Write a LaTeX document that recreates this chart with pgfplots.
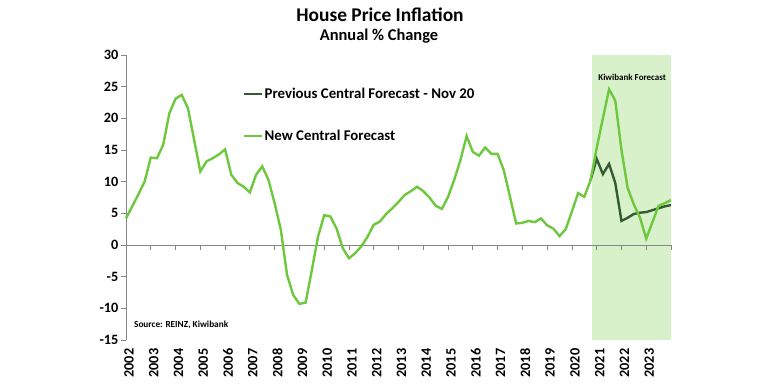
\documentclass[border=0pt]{standalone}
\usepackage{pgfplots}
\pgfplotsset{compat=1.18}
\usepackage{pgfplotstable}
\usepackage{fontspec}
\setmainfont{Carlito}
\definecolor{newgreen}{RGB}{110,200,62}
\definecolor{oldgreen}{RGB}{52,92,52}
\definecolor{shadegreen}{RGB}{217,241,203}
\definecolor{axgray}{RGB}{134,134,134}
\pgfplotstableread{
x y
2002.00 4.2
2002.25 6.1
2002.50 8.0
2002.75 10.0
2003.00 13.8
2003.25 13.7
2003.50 15.8
2003.75 20.8
2004.00 23.1
2004.25 23.7
2004.50 21.6
2004.75 16.6
2005.00 11.6
2005.25 13.2
2005.50 13.7
2005.75 14.3
2006.00 15.1
2006.25 11.1
2006.50 9.8
2006.75 9.2
2007.00 8.3
2007.25 11.1
2007.50 12.4
2007.75 10.3
2008.00 6.6
2008.25 2.4
2008.50 -4.7
2008.75 -7.9
2009.00 -9.3
2009.25 -9.1
2009.50 -4.0
2009.75 1.3
2010.00 4.7
2010.25 4.5
2010.50 2.6
2010.75 -0.5
2011.00 -2.1
2011.25 -1.3
2011.50 -0.2
2011.75 1.3
2012.00 3.2
2012.25 3.7
2012.50 4.9
2012.75 5.8
2013.00 6.8
2013.25 7.9
2013.50 8.5
2013.75 9.2
2014.00 8.5
2014.25 7.5
2014.50 6.2
2014.75 5.7
2015.00 7.6
2015.25 10.3
2015.50 13.4
2015.75 17.2
2016.00 14.7
2016.25 14.1
2016.50 15.4
2016.75 14.4
2017.00 14.4
2017.25 11.8
2017.50 7.6
2017.75 3.4
2018.00 3.5
2018.25 3.8
2018.50 3.6
2018.75 4.2
2019.00 3.1
2019.25 2.6
2019.50 1.4
2019.75 2.5
2020.00 5.3
2020.25 8.2
2020.50 7.6
2020.75 10.2
2021.00 15.3
2021.25 20.0
2021.50 24.6
2021.75 22.8
2022.00 15.0
2022.25 9.0
2022.50 6.4
2022.75 4.3
2023.00 1.0
2023.25 3.6
2023.50 6.2
2023.75 6.6
2024.00 7.1
}\newdata
\pgfplotstableread{
x y
2020.75 10.2
2021.00 13.6
2021.25 11.2
2021.50 12.8
2021.75 9.8
2022.00 3.8
2022.25 4.3
2022.50 4.9
2022.75 5.1
2023.00 5.2
2023.25 5.5
2023.50 5.8
2023.75 6.1
2024.00 6.3
}\olddata
\begin{document}
\begin{tikzpicture}
\path[use as bounding box] (0,0) rectangle (760bp,390bp);
\node[font=\bfseries\fontsize{19.5}{19.5}\selectfont] at (380bp,375bp) {House Price Inflation};
\node[font=\bfseries\fontsize{16.5}{16.5}\selectfont] at (379bp,354bp) {Annual \% Change};
\begin{axis}[
  at={(126bp,50bp)}, anchor=south west,
  scale only axis, width=545bp, height=285bp,
  xmin=2002, xmax=2024, ymin=-15, ymax=30,
  axis lines*=left,
  x axis line style={draw=none},
  y axis line style={draw=axgray, line width=0.8bp},
  clip=false,
  ytick={-15,-10,-5,0,5,10,15,20,25,30},
  yticklabels={-15,-10,-5,0,5,10,15,20,25,30},
  ytick style={draw=axgray, line width=0.8bp},
  tick align=outside,
  major tick length=5bp,
  xtick={2002.12,2003.12,2004.12,2005.12,2006.12,2007.12,2008.12,2009.12,2010.12,2011.12,2012.12,2013.12,2014.12,2015.12,2016.12,2017.12,2018.12,2019.12,2020.12,2021.12,2022.12,2023.12},
  xticklabels={2002,2003,2004,2005,2006,2007,2008,2009,2010,2011,2012,2013,2014,2015,2016,2017,2018,2019,2020,2021,2022,2023},
  x tick style={draw=none},
  ticklabel style={font=\bfseries\fontsize{14.3}{14.3}\selectfont},
  xticklabel style={rotate=90, anchor=east, inner sep=3.5bp},
  yticklabel style={inner sep=2.5bp},
  legend style={at={(axis description cs:0.2147,0.7895)}, anchor=west, draw=none, fill=none,
    inner sep=0pt, row sep=28bp, font=\bfseries\fontsize{14.9}{14.9}\selectfont,
    nodes={inner sep=1bp}},
  legend cell align=left,
  legend image code/.code={\draw[#1] (-1bp,0bp) -- (17bp,0bp);},
]
\addplot[fill=shadegreen, draw=none, forget plot] coordinates {(2020.8,-15) (2020.8,30) (2024,30) (2024,-15)};
\addplot[axgray, line width=0.8bp, forget plot] coordinates {(2002,0) (2024,0)};
\pgfplotsinvokeforeach{2003,2004,...,2024}{\draw[axgray, line width=0.8bp] (axis cs:#1,0) -- (axis cs:#1,-0.8);}
\addplot[oldgreen, line width=2.4bp] table[x=x,y=y] {\olddata};
\addlegendentry{Previous Central Forecast - Nov 20}
\addplot[newgreen, line width=2.4bp] table[x=x,y=y] {\newdata};
\addlegendentry{New Central Forecast}
\node[font=\bfseries\fontsize{9}{9}\selectfont] at (axis cs:2022.43,26.4) {Kiwibank Forecast};
\node[anchor=west, inner sep=0pt, font=\bfseries\fontsize{9.3}{9.3}\selectfont] at (axis cs:2002.32,-12.6) {Source: REINZ, Kiwibank};
\end{axis}
\end{tikzpicture}
\end{document}
